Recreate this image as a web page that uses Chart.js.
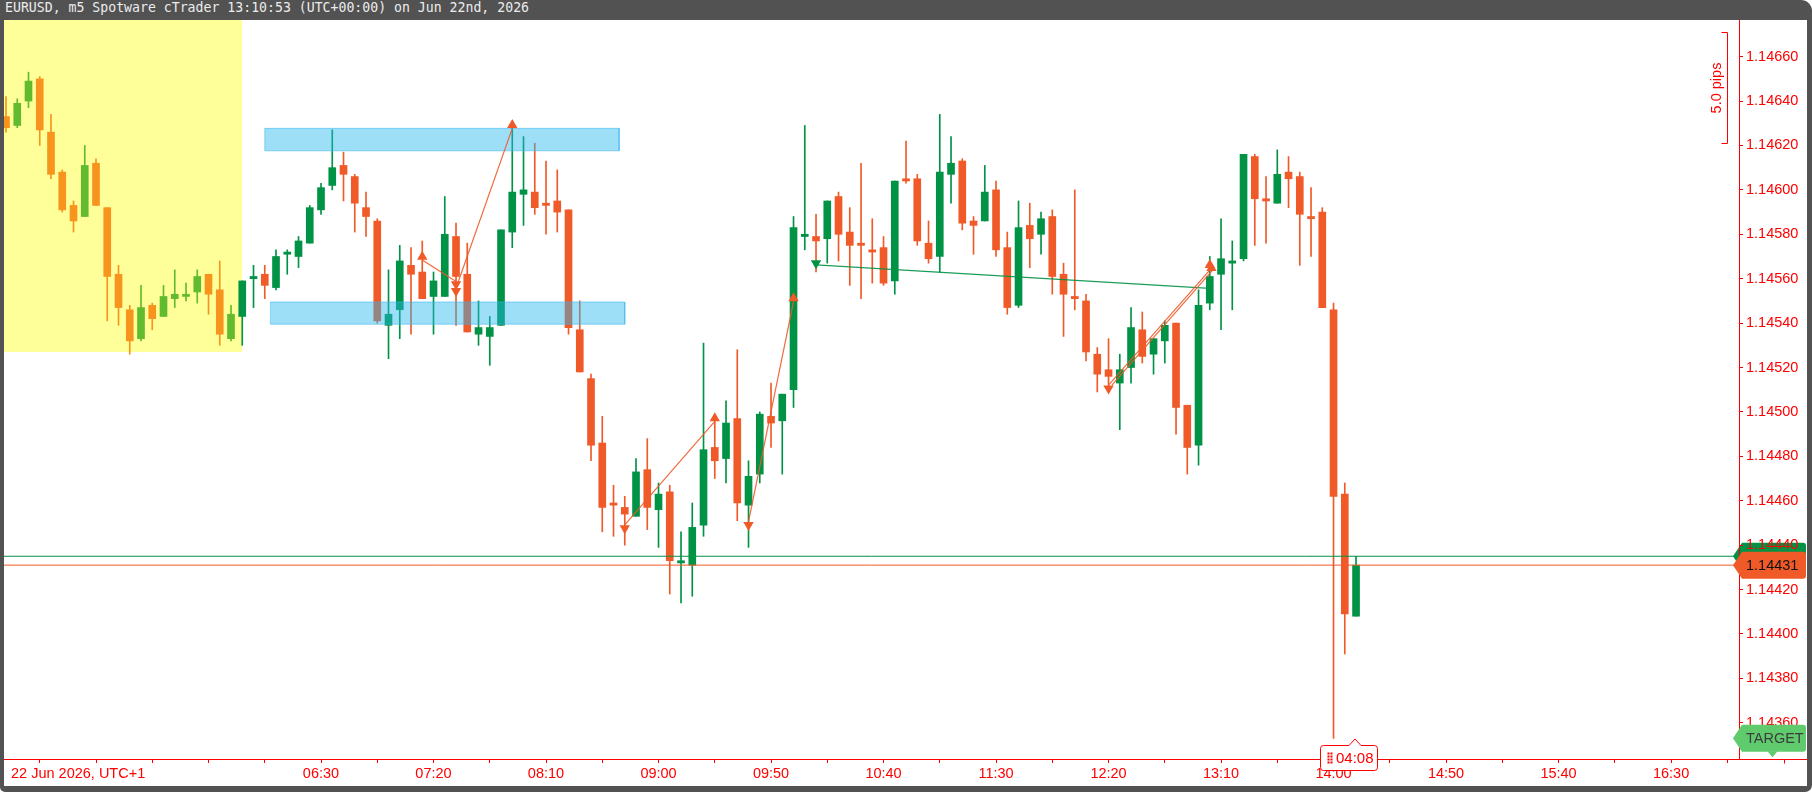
<!DOCTYPE html>
<html>
<head>
<meta charset="utf-8">
<script src="https://cdn.jsdelivr.net/npm/chart.js@4.4.1/dist/chart.umd.min.js"></script>
<style>
  html, body { margin: 0; padding: 0; background: #fff; }
  #frame { position: absolute; left: 0; top: 0; width: 1812px; height: 792px; background: #525252; border-radius: 0 11px 7px 5px; }
  #title { position: absolute; left: 5px; top: 0; height: 20px; line-height: 20px; font: 13.2px "DejaVu Sans Mono", monospace; color: #ececec; white-space: nowrap; }
  #plot { position: absolute; left: 4px; top: 20px; width: 1803px; height: 766px; background: #fff; }
</style>
</head>
<body>
<div id="frame">
  <div id="title">EURUSD, m5 Spotware cTrader 13:10:53 (UTC+00:00) on Jun 22nd, 2026</div>
  <div id="plot"><canvas id="chart"></canvas></div>
</div>
<script>
// m5 candles, 22 Jun 2026 (UTC+1)
const times = [
  '04:10','04:15','04:20','04:25','04:30','04:35','04:40','04:45','04:50','04:55',
  '05:00','05:05','05:10','05:15','05:20','05:25','05:30','05:35','05:40','05:45','05:50','05:55',
  '06:00','06:05','06:10','06:15','06:20','06:25','06:30','06:35','06:40','06:45','06:50','06:55',
  '07:00','07:05','07:10','07:15','07:20','07:25','07:30','07:35','07:40','07:45','07:50','07:55',
  '08:00','08:05','08:10','08:15','08:20','08:25','08:30','08:35','08:40','08:45','08:50','08:55',
  '09:00','09:05','09:10','09:15','09:20','09:25','09:30','09:35','09:40','09:45','09:50','09:55',
  '10:00','10:05','10:10','10:15','10:20','10:25','10:30','10:35','10:40','10:45','10:50','10:55',
  '11:00','11:05','11:10','11:15','11:20','11:25','11:30','11:35','11:40','11:45','11:50','11:55',
  '12:00','12:05','12:10','12:15','12:20','12:25','12:30','12:35','12:40','12:45','12:50','12:55',
  '13:00','13:05','13:10','13:15','13:20','13:25','13:30','13:35','13:40','13:45','13:50','13:55',
  '14:00','14:05','14:10'
];
const open = [
  1.14633,1.14629,1.14640,1.14650,1.14626,1.14608,1.14593,1.14588,1.14612,1.14592,
  1.14562,1.14546,1.14533,1.14548,1.14543,1.14551,1.14552,1.14554,1.14562,1.14555,
  1.14533,1.14543,1.14560,1.14562,1.14556,1.14571,1.14570,1.14576,1.14591,1.14602,
  1.14611,1.14606,1.14592,1.14586,1.14539,1.14546,1.14566,1.14563,1.14552,1.14552,
  1.14579,1.14562,1.14535,1.14534,1.14539,1.14581,1.14598,1.14599,1.14594,1.14595,
  1.14591,1.14537,1.14515,1.14486,1.14459,1.14457,1.14453,1.14474,1.14456,1.14464,
  1.14432,1.14431,1.14449,1.14484,1.14479,1.14497,1.14458,1.14472,1.14498,1.14496,
  1.14510,1.14579,1.14579,1.14578,1.14597,1.14581,1.14576,1.14573,1.14574,1.14559,
  1.14605,1.14605,1.14576,1.14570,1.14607,1.14613,1.14586,1.14586,1.14600,1.14574,
  1.14548,1.14584,1.14580,1.14588,1.14562,1.14552,1.14550,1.14526,1.14519,1.14513,
  1.14520,1.14537,1.14526,1.14532,1.14540,1.14503,1.14485,1.14549,1.14562,1.14567,
  1.14569,1.14615,1.14596,1.14594,1.14608,1.14606,1.14588,1.14590,1.14546,1.14463,
  1.14408
];
const high = [
  1.14642,1.14641,1.14653,1.14651,1.14634,1.14609,1.14595,1.14620,1.14614,1.14592,
  1.14566,1.14548,1.14557,1.14549,1.14557,1.14564,1.14558,1.14564,1.14562,1.14568,
  1.14548,1.14559,1.14566,1.14566,1.14573,1.14573,1.14579,1.14593,1.14603,1.14627,
  1.14617,1.14607,1.14599,1.14587,1.14564,1.14575,1.14574,1.14577,1.14563,1.14597,
  1.14585,1.14576,1.14550,1.14543,1.14582,1.14628,1.14624,1.14621,1.14613,1.14609,
  1.14591,1.14550,1.14517,1.14498,1.14467,1.14462,1.14479,1.14488,1.14468,1.14467,
  1.14446,1.14459,1.14531,1.14497,1.14505,1.14528,1.14478,1.14500,1.14513,1.14508,
  1.14588,1.14629,1.14589,1.14595,1.14599,1.14592,1.14612,1.14587,1.14579,1.14604,
  1.14622,1.14607,1.14586,1.14634,1.14624,1.14614,1.14588,1.14611,1.14604,1.14581,
  1.14595,1.14594,1.14590,1.14591,1.14567,1.14600,1.14553,1.14529,1.14533,1.14526,
  1.14547,1.14545,1.14533,1.14541,1.14540,1.14503,1.14555,1.14570,1.14587,1.14577,
  1.14616,1.14616,1.14606,1.14618,1.14615,1.14608,1.14601,1.14592,1.14549,1.14468,
  1.14435
];
const low = [
  1.14626,1.14628,1.14637,1.14620,1.14605,1.14590,1.14581,1.14588,1.14593,1.14541,
  1.14539,1.14526,1.14532,1.14537,1.14543,1.14547,1.14550,1.14549,1.14544,1.14530,
  1.14532,1.14530,1.14547,1.14551,1.14555,1.14562,1.14565,1.14576,1.14589,1.14600,
  1.14595,1.14581,1.14579,1.14540,1.14524,1.14533,1.14535,1.14551,1.14535,1.14552,
  1.14539,1.14536,1.14530,1.14521,1.14539,1.14574,1.14584,1.14589,1.14580,1.14581,
  1.14535,1.14518,1.14478,1.14446,1.14444,1.14440,1.14453,1.14447,1.14439,1.14418,
  1.14414,1.14417,1.14444,1.14470,1.14468,1.14451,1.14439,1.14468,1.14484,1.14472,
  1.14502,1.14573,1.14563,1.14567,1.14568,1.14557,1.14551,1.14558,1.14557,1.14553,
  1.14603,1.14575,1.14567,1.14563,1.14594,1.14582,1.14571,1.14586,1.14570,1.14544,
  1.14547,1.14565,1.14571,1.14553,1.14534,1.14546,1.14523,1.14509,1.14511,1.14492,
  1.14513,1.14522,1.14517,1.14522,1.14490,1.14472,1.14476,1.14546,1.14537,1.14546,
  1.14568,1.14575,1.14576,1.14594,1.14592,1.14566,1.14570,1.14547,1.14353,1.14391,
  1.14408
];
const close = [
  1.14628,1.14639,1.14649,1.14627,1.14607,1.14591,1.14586,1.14611,1.14593,1.14561,
  1.14547,1.14532,1.14547,1.14542,1.14552,1.14553,1.14553,1.14561,1.14553,1.14535,
  1.14544,1.14559,1.14561,1.14557,1.14570,1.14572,1.14577,1.14592,1.14601,1.14610,
  1.14607,1.14594,1.14588,1.14541,1.14544,1.14568,1.14562,1.14551,1.14559,1.14580,
  1.14561,1.14536,1.14538,1.14538,1.14582,1.14599,1.14600,1.14592,1.14593,1.14590,
  1.14538,1.14518,1.14485,1.14457,1.14458,1.14454,1.14473,1.14457,1.14463,1.14433,
  1.14433,1.14448,1.14483,1.14478,1.14495,1.14459,1.14471,1.14499,1.14495,1.14508,
  1.14583,1.14580,1.14577,1.14595,1.14580,1.14575,1.14575,1.14572,1.14558,1.14604,
  1.14604,1.14577,1.14569,1.14608,1.14612,1.14585,1.14584,1.14599,1.14573,1.14547,
  1.14583,1.14578,1.14587,1.14561,1.14553,1.14551,1.14527,1.14517,1.14516,1.14519,
  1.14538,1.14525,1.14533,1.14539,1.14502,1.14484,1.14548,1.14561,1.14569,1.14568,
  1.14616,1.14596,1.14595,1.14607,1.14605,1.14589,1.14587,1.14547,1.14462,1.14409,
  1.14431
];

// time axis labels (every 50 min), prices on the right scale
const timeLabels = ['06:30','07:20','08:10','09:00','09:50','10:40','11:30','12:20','13:10','14:00','14:50','15:40','16:30'];
const dateLabel = '22 Jun 2026, UTC+1';

// session box (yellow), supply/demand zones (blue)
const sessionEnd = '05:55';
const sessionLow = 1.14527;
const zoneStart = ['06:05', '06:07:30'];
const zoneEnd = ['08:42:30', '08:45'];
const zoneHigh = [1.146277, 1.145495];
const zoneLow = [1.146176, 1.145395];

// drawn trend lines [from time, price, to time, price]
const orangeSegments = [
  ['07:15', 1.145684, '07:30', 1.145587],
  ['07:30', 1.145557, '07:55', 1.146277],
  ['08:45', 1.144491, '09:25', 1.144957],
  ['09:40', 1.144506, '10:00', 1.145497],
  ['12:20', 1.145121, '13:05', 1.145639],
  ['12:21:30', 1.145121, '13:06:15', 1.145639]
];
const greenSegments = [['10:10', 1.145662, '13:05', 1.145556]];
const upArrows = [['07:15', 1.145699], ['07:55', 1.146292], ['09:25', 1.144972], ['10:00', 1.145512], ['13:05', 1.145662], ['13:05:45', 1.145648]];
const downArrows = [['07:30', 1.145575], ['07:30', 1.145545], ['08:45', 1.144476], ['09:40', 1.144491], ['12:20', 1.145106]];
const greenDownArrows = [['10:10', 1.145669]];

const askPrice = 1.14435;
const bidPrice = 1.14431;
const targetPrice = 1.14353;
const pipTop = 1.14671;
const pipBottom = 1.14621;
const countdown = '04:08';

// visible window (minutes of day / price)
const viewStart = 249.11, viewEnd = 1020.2;
const yMin = 1.143437, yMax = 1.146765;

const RED = '#ff0000';
const BULL = '#009245', BEAR = '#f05a28';
const S_BULL = '#62bb2e', S_BEAR = '#f7941d';
const FAMILY = "'Liberation Sans', Arial, sans-serif";

const toMin = s => { const p = s.split(':').map(Number); return p[0] * 60 + p[1] + (p[2] || 0) / 60; };
const fmt = m => String(Math.floor(m / 60)).padStart(2, '0') + ':' + String(m % 60).padStart(2, '0');

const candleColor = times.map((t, i) => {
  const up = close[i] >= open[i];
  if (toMin(t) < toMin(sessionEnd)) return up ? S_BULL : S_BEAR;
  return up ? BULL : BEAR;
});

const xTicks = [];
for (let v = toMin(timeLabels[0]) - 125; v <= viewEnd; v += 25) xTicks.push(v);
const labelled = new Set(timeLabels.map(toMin));

const datasets = [];
datasets.push({
  type: 'line', order: 20,
  data: [{x: viewStart - 10, y: yMax + 0.001}, {x: toMin(sessionEnd), y: yMax + 0.001}],
  fill: {value: sessionLow}, backgroundColor: '#ffff99', borderWidth: 0, pointRadius: 0
});
datasets.push({
  type: 'bar', order: 11, grouped: false, barThickness: 1,
  data: times.map((t, i) => ({x: toMin(t), y: [low[i], high[i]]})),
  backgroundColor: candleColor
});
datasets.push({
  type: 'bar', order: 10, grouped: false, barThickness: 7, minBarLength: 2,
  data: times.map((t, i) => ({x: toMin(t), y: [open[i], close[i]]})),
  backgroundColor: candleColor
});
zoneStart.forEach((s, i) => {
  const a = toMin(s), b = toMin(zoneEnd[i]);
  datasets.push({
    type: 'line', order: 5,
    data: [{x: a, y: zoneHigh[i]}, {x: b, y: zoneHigh[i]}],
    fill: {value: zoneLow[i]}, backgroundColor: 'rgba(37,184,237,0.45)', borderWidth: 0, pointRadius: 0
  });
  datasets.push({
    type: 'line', order: 4,
    data: [{x: a, y: zoneHigh[i]}, {x: b, y: zoneHigh[i]}, {x: b, y: zoneLow[i]}, {x: a, y: zoneLow[i]}, {x: a, y: zoneHigh[i]}],
    borderColor: 'rgba(60,180,240,0.55)', borderWidth: 1, pointRadius: 0, fill: false
  });
});
[[askPrice, BULL], [bidPrice, BEAR]].forEach(([p, c]) => {
  datasets.push({
    type: 'line', order: 3,
    data: [{x: viewStart - 10, y: p}, {x: viewEnd + 10, y: p}],
    borderColor: c, borderWidth: 1, pointRadius: 0, fill: false
  });
});
const segSet = (list, color, width) => list.forEach(s => datasets.push({
  type: 'line', order: 2,
  data: [{x: toMin(s[0]), y: s[1]}, {x: toMin(s[2]), y: s[3]}],
  borderColor: color, borderWidth: width, pointRadius: 0, fill: false
}));
segSet(orangeSegments, 'rgba(240,90,40,0.9)', 1.2);
segSet(greenSegments, 'rgba(0,146,69,0.9)', 1.3);
const arrowSet = (list, color, rot) => datasets.push({
  type: 'line', order: 1, showLine: false,
  data: list.map(a => ({x: toMin(a[0]), y: a[1]})),
  pointStyle: 'triangle', pointRadius: 6, pointRotation: rot,
  pointBackgroundColor: color, pointBorderWidth: 0
});
arrowSet(upArrows, BEAR, 0);
arrowSet(downArrows, BEAR, 180);
arrowSet(greenDownArrows, BULL, 180);

function priceTag(ctx, ca, w, cy, fill) {
  const tip = ca.right - 6, x0 = ca.right + 3, x1 = w - 1, h = 13.5, r = 3;
  ctx.beginPath();
  ctx.moveTo(tip, cy);
  ctx.lineTo(x0, cy - h);
  ctx.lineTo(x1 - r, cy - h);
  ctx.quadraticCurveTo(x1, cy - h, x1, cy - h + r);
  ctx.lineTo(x1, cy + h - r);
  ctx.quadraticCurveTo(x1, cy + h, x1 - r, cy + h);
  ctx.lineTo(x0, cy + h);
  ctx.closePath();
  ctx.fillStyle = fill;
  ctx.fill();
}

const overlay = {
  id: 'overlay',
  beforeDraw(chart) {
    const {ctx, chartArea: ca, scales: {y}} = chart;
    ctx.save();
    priceTag(ctx, ca, chart.width, y.getPixelForValue(askPrice), BULL);
    ctx.restore();
  },
  afterDraw(chart) {
    const {ctx, chartArea: ca, scales: {x, y}} = chart;
    const w = chart.width;
    ctx.save();
    ctx.strokeStyle = RED;
    ctx.lineWidth = 1;

    // time axis continues under the price scale
    const ay = Math.round(ca.bottom) + 0.5;
    ctx.beginPath();
    ctx.moveTo(ca.right, ay);
    ctx.lineTo(w, ay);
    const tx = Math.round(x.getPixelForValue(toMin('17:20'))) + 0.5;
    ctx.moveTo(tx, ay);
    ctx.lineTo(tx, ay + 4);
    ctx.stroke();

    ctx.font = '14.5px ' + FAMILY;
    ctx.textBaseline = 'middle';
    ctx.textAlign = 'left';

    // bid tag
    const by = y.getPixelForValue(bidPrice);
    priceTag(ctx, ca, w, by, BEAR);
    ctx.fillStyle = '#111';
    ctx.fillText(bidPrice.toFixed(5), ca.right + 7, by + 1);

    // target tag
    const ty = y.getPixelForValue(targetPrice);
    priceTag(ctx, ca, w, ty, '#5fcb6d');
    const pc = ca.right + 33.5;
    ctx.beginPath();
    ctx.moveTo(pc - 5, ty + 13);
    ctx.lineTo(pc, ty + 19);
    ctx.lineTo(pc + 5, ty + 13);
    ctx.fill();
    ctx.fillStyle = '#3d3d3d';
    ctx.fillText('TARGET', ca.right + 7, ty + 1);

    // date on time axis
    ctx.fillStyle = RED;
    ctx.fillText(dateLabel, 7, ca.bottom + 15);

    // pips bracket
    const px = Math.round(ca.right - 12) + 0.5;
    const y1 = Math.round(y.getPixelForValue(pipTop)) + 0.5;
    const y2 = Math.round(y.getPixelForValue(pipBottom)) + 0.5;
    ctx.beginPath();
    ctx.moveTo(px - 6, y1);
    ctx.lineTo(px, y1);
    ctx.lineTo(px, y2);
    ctx.lineTo(px - 6, y2);
    ctx.stroke();
    ctx.save();
    ctx.translate(ca.right - 22, (y1 + y2) / 2);
    ctx.rotate(-Math.PI / 2);
    ctx.textAlign = 'center';
    ctx.fillText(((pipTop - pipBottom) * 10000).toFixed(1) + ' pips', 0, 0);
    ctx.restore();

    // bar countdown under the last candle
    const lx = Math.round(x.getPixelForValue(toMin(times[times.length - 1])));
    const left = lx - 35.5, right = lx + 21.5, top = Math.round(ca.bottom) - 13.5, bottom = top + 25;
    ctx.beginPath();
    ctx.moveTo(left + 3, top);
    ctx.lineTo(lx - 7, top);
    ctx.lineTo(lx - 1, top - 6.5);
    ctx.lineTo(lx + 5, top);
    ctx.lineTo(right - 3, top);
    ctx.quadraticCurveTo(right, top, right, top + 3);
    ctx.lineTo(right, bottom - 3);
    ctx.quadraticCurveTo(right, bottom, right - 3, bottom);
    ctx.lineTo(left + 3, bottom);
    ctx.quadraticCurveTo(left, bottom, left, bottom - 3);
    ctx.lineTo(left, top + 3);
    ctx.quadraticCurveTo(left, top, left + 3, top);
    ctx.closePath();
    ctx.fillStyle = '#fff';
    ctx.fill();
    ctx.stroke();
    ctx.fillStyle = RED;
    for (let r = 0; r < 4; r++) for (let c = 0; c < 2; c++) ctx.fillRect(left + 7 + c * 3, top + 7 + r * 3, 2, 2);
    ctx.font = '15px ' + FAMILY;
    ctx.fillText(countdown, left + 15.5, top + 13);
    ctx.restore();
  }
};

new Chart(document.getElementById('chart'), {
  type: 'bar',
  data: {datasets},
  plugins: [overlay],
  options: {
    responsive: true,
    maintainAspectRatio: false,
    animation: false,
    events: [],
    layout: {padding: 0, autoPadding: false},
    plugins: {legend: {display: false}, tooltip: {enabled: false}},
    scales: {
      x: {
        type: 'linear', min: viewStart, max: viewEnd, offset: false,
        grid: {drawOnChartArea: false, drawTicks: true, tickLength: 4, color: RED, offset: false},
        border: {color: RED, width: 1},
        ticks: {
          color: RED, padding: 2, autoSkip: false, maxRotation: 0,
          font: {family: FAMILY, size: 14.5},
          callback: v => labelled.has(v) ? fmt(v) : ''
        },
        afterBuildTicks: ax => { ax.ticks = xTicks.map(v => ({value: v})); },
        afterFit: ax => { ax.height = 27; ax.paddingLeft = 0; ax.paddingRight = 0; }
      },
      y: {
        position: 'right', min: yMin, max: yMax,
        grid: {drawOnChartArea: false, drawTicks: true, tickLength: 4, color: RED},
        border: {color: RED, width: 1},
        ticks: {
          stepSize: 0.0002, includeBounds: false, color: RED, padding: 3,
          font: {family: FAMILY, size: 14.5},
          callback: v => v.toFixed(5)
        },
        afterFit: ax => { ax.width = 68; ax.paddingTop = 0; ax.paddingBottom = 0; }
      }
    }
  }
});
</script>
</body>
</html>
